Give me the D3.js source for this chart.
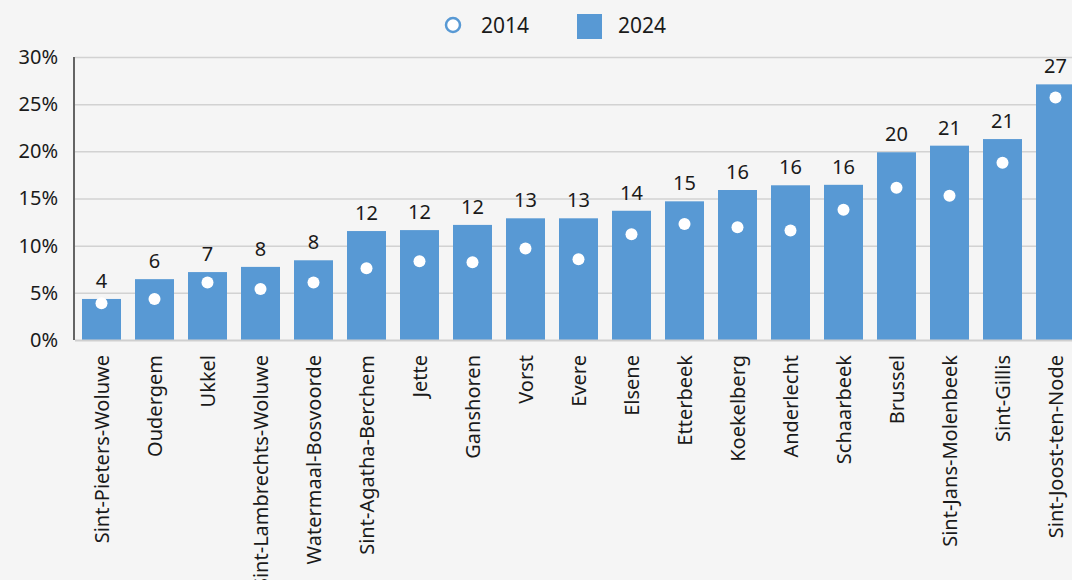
<!DOCTYPE html>
<html lang="nl">
<head>
<meta charset="UTF-8">
<title>2014 vs 2024</title>
<script src="https://d3js.org/d3.v7.min.js"></script>
<style>
  body { margin: 0; background: #f5f5f5; font-family: "Noto Sans", sans-serif; }
  svg { display: block; }
  .grid .tick line { stroke: #d2d2d2; stroke-width: 1.5; }
  .grid path { stroke-width: 0; }
  .y.axis path { stroke: #333; stroke-width: 1.5; }
  .y.axis .tick line { display: none; }
  .axis text { fill: #1a1a1a; font-size: 20px; font-family: "Noto Sans", sans-serif; }
  .x.axis text { font-size: 20px; }
  .x.axis path, .x.axis .tick line { display: none; }
  .lbl { fill: #1a1a1a; font-size: 20px; text-anchor: middle; }
</style>
</head>
<body>
<script>
var gemeenten = ["Sint-Pieters-Woluwe", "Oudergem", "Ukkel", "Sint-Lambrechts-Woluwe",
  "Watermaal-Bosvoorde", "Sint-Agatha-Berchem", "Jette", "Ganshoren", "Vorst", "Evere",
  "Elsene", "Etterbeek", "Koekelberg", "Anderlecht", "Schaarbeek", "Brussel",
  "Sint-Jans-Molenbeek", "Sint-Gillis", "Sint-Joost-ten-Node"];
var v2024 = [4.35, 6.45, 7.2, 7.75, 8.45, 11.55, 11.65, 12.2, 12.9, 12.9,
  13.7, 14.7, 15.9, 16.4, 16.45, 19.9, 20.6, 21.3, 27.1];
var v2014 = [3.9, 4.35, 6.1, 5.4, 6.1, 7.6, 8.35, 8.25, 9.7, 8.55,
  11.2, 12.3, 11.95, 11.6, 13.8, 16.15, 15.3, 18.8, 25.7];
var yTicks = [0, 5, 10, 15, 20, 25, 30];
var series = ["2014", "2024"];

var W = 1072, H = 580;
var mLeft = 75, mTop = 57, mBottom = 340;
var blue = "#5899d4";

var svg = d3.select("body").append("svg")
  .attr("width", W).attr("height", H);

var x = d3.scaleBand()
  .domain(gemeenten)
  .range([mLeft, mLeft + 19 * 53])
  .paddingInner(14 / 53)
  .paddingOuter(7 / 53);

var y = d3.scaleLinear().domain([0, 30]).range([mBottom, mTop]);

// grid
svg.append("g")
  .attr("class", "grid")
  .attr("transform", "translate(" + mLeft + ",0)")
  .call(d3.axisLeft(y).tickValues(yTicks.slice(1)).tickSize(-(W - mLeft)).tickFormat(""));

// bars
svg.selectAll(".bar")
  .data(gemeenten)
  .enter().append("rect")
  .attr("class", "bar")
  .attr("x", function(d) { return x(d); })
  .attr("width", x.bandwidth())
  .attr("y", function(d, i) { return y(v2024[i]); })
  .attr("height", function(d, i) { return mBottom - y(v2024[i]); })
  .attr("fill", blue);

// dots 2014
svg.selectAll(".dot")
  .data(gemeenten)
  .enter().append("circle")
  .attr("cx", function(d) { return x(d) + x.bandwidth() / 2; })
  .attr("cy", function(d, i) { return y(v2014[i]); })
  .attr("r", 6)
  .attr("fill", "#fff");

// value labels
svg.selectAll(".lbl")
  .data(gemeenten)
  .enter().append("text")
  .attr("class", "lbl")
  .attr("x", function(d) { return x(d) + x.bandwidth() / 2; })
  .attr("y", function(d, i) { return y(v2024[i]) - 11; })
  .text(function(d, i) { return d3.format(".0f")(v2024[i]); });

// baseline
svg.append("line")
  .attr("x1", mLeft).attr("x2", W)
  .attr("y1", mBottom + 0.5).attr("y2", mBottom + 0.5)
  .attr("stroke", "#cfcfcf").attr("stroke-width", 2);

// y axis
var yAxis = svg.append("g")
  .attr("class", "y axis")
  .attr("transform", "translate(" + (mLeft - 1) + ",0)")
  .call(d3.axisLeft(y).tickValues(yTicks).tickSize(0).tickPadding(16)
    .tickFormat(function(d) { return d + "%"; }));
yAxis.select(".domain").attr("d", "M0," + mTop + "V" + mBottom);

// x axis
svg.append("g")
  .attr("class", "x axis")
  .attr("transform", "translate(0," + mBottom + ")")
  .call(d3.axisBottom(x).tickSize(0))
  .selectAll("text")
  .attr("transform", "rotate(-90)")
  .attr("x", -15)
  .attr("y", 0)
  .attr("dy", "0.35em")
  .style("text-anchor", "end");

// legend
var legend = svg.append("g").attr("class", "legend");
legend.append("circle")
  .attr("cx", 453).attr("cy", 25).attr("r", 7)
  .attr("fill", "#fff").attr("stroke", blue).attr("stroke-width", 2.5);
legend.append("rect")
  .attr("x", 577).attr("y", 14).attr("width", 25).attr("height", 25)
  .attr("fill", blue);
legend.selectAll("text")
  .data(series)
  .enter().append("text")
  .attr("x", function(d, i) { return i === 0 ? 481 : 618; })
  .attr("y", 33)
  .attr("fill", "#1a1a1a")
  .style("font-size", "21px")
  .text(function(d) { return d; });
</script>
</body>
</html>
